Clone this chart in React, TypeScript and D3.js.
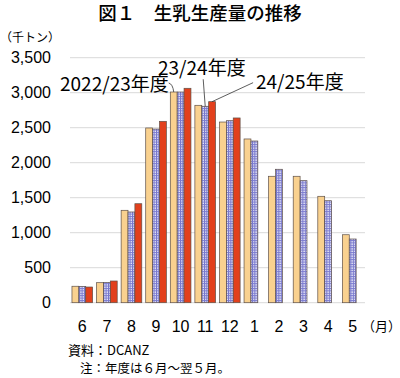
import React from "react";
import * as d3 from "d3";

const months = ["6", "7", "8", "9", "10", "11", "12", "1", "2", "3", "4", "5"];
const fy2223 = [235, 286, 1320, 2496, 3010, 2820, 2581, 2339, 1806, 1806, 1520, 971];
const fy2324 = [233, 290, 1296, 2481, 3010, 2806, 2600, 2310, 1906, 1743, 1457, 910];
const fy2425 = [224, 310, 1414, 2591, 3063, 2872, 2639];
const seriesNames = ["2022/23年度", "23/24年度", "24/25年度"];
const yTicks = [0, 500, 1000, 1500, 2000, 2500, 3000, 3500];

const W = 400;
const H = 378;
const left = 70;
const right = 365;
const top = 57.7;
const bottom = 302.7;

export default function App() {
  const x = d3.scaleBand<string>().domain(months).range([left, right]).paddingInner(0.16).paddingOuter(0.08);
  const series = [fy2223, fy2324, fy2425];
  const xs = d3.scaleBand<number>().domain([0, 1, 2]).range([0, x.bandwidth()]).padding(0);
  const y = d3.scaleLinear().domain([0, 3500]).range([bottom, top]);
  const fills = ["#f9d18f", "url(#chk)", "#e2401c"];
  const jp = "'Noto Sans CJK JP', sans-serif";
  const ar = "'Liberation Sans', Arial, sans-serif";

  const barTop = (s: number, i: number) => ({
    x: (x(months[i]) as number) + (xs(s) as number) + xs.bandwidth() / 2,
    y: y(series[s][i]),
  });
  const p0 = barTop(0, 4);
  const p1 = barTop(1, 5);
  const p2 = barTop(2, 5);

  return (
    <svg width={W} height={H} style={{ position: "absolute", left: 0, top: 0 }}>
      <defs>
        <pattern id="chk" width="2.4" height="2.4" patternUnits="userSpaceOnUse">
          <rect width="2.4" height="2.4" fill="#ececfa" />
          <rect width="1" height="2.4" fill="#6a6ac4" />
          <rect width="2.4" height="1" fill="#7a7ad0" />
        </pattern>
      </defs>
      <rect width={W} height={H} fill="#fff" />
      <text x={200} y={20} textAnchor="middle" fontFamily={jp} fontWeight={500} fontSize={18.5} fill="#000">
        図１　生乳生産量の推移
      </text>
      <text x={0} y={42} fontFamily={jp} fontSize={12} fill="#000">（千トン）</text>
      {yTicks.map((t) => (
        <g key={t}>
          {t > 0 && <line x1={left} x2={right} y1={y(t)} y2={y(t)} stroke="#d9d9d9" strokeWidth={1} />}
          <text x={51} y={y(t) + 5.5} textAnchor="end" fontFamily={ar} fontSize={16} fill="#000">
            {d3.format(",")(t)}
          </text>
        </g>
      ))}
      <line x1={left} x2={right} y1={bottom} y2={bottom} stroke="#d9d9d9" strokeWidth={1} />
      {series.map((vals, s) =>
        vals.map((v, i) => (
          <rect
            key={s + "-" + i}
            x={(x(months[i]) as number) + (xs(s) as number)}
            y={y(v)}
            width={xs.bandwidth()}
            height={bottom - y(v)}
            fill={fills[s]}
            stroke="#5e5048"
            strokeWidth={0.7}
          />
        ))
      )}
      {months.map((m) => (
        <text key={m} x={(x(m) as number) + x.bandwidth() / 2} y={331.5} textAnchor="middle" fontFamily={ar} fontSize={16} fill="#000">
          {m}
        </text>
      ))}
      <text x={362} y={331} fontFamily={jp} fontSize={13} fill="#000">（月）</text>
      <text x={68} y={355} fontFamily={jp} fontSize={13} fill="#000">資料：DCANZ</text>
      <text x={80} y={373} fontFamily={jp} fontSize={12.5} fill="#000">注：年度は６月～翌５月。</text>

      <path d={`M${p0.x - 5},${p0.y - 9} Q${p0.x - 1},${p0.y - 8} ${p0.x},${p0.y}`} fill="none" stroke="#333" strokeWidth={0.8} />
      <path d={`M${p1.x - 2},${p1.y - 27} L${p1.x},${p1.y}`} fill="none" stroke="#333" strokeWidth={0.8} />
      <path d={`M${p2.x + 41},${p2.y - 19} L${p2.x},${p2.y}`} fill="none" stroke="#333" strokeWidth={0.8} />
      <text x={60} y={91} fontFamily={jp} fontSize={19} fill="#000">{seriesNames[0]}</text>
      <text x={158} y={75} fontFamily={jp} fontSize={19} fill="#000">{seriesNames[1]}</text>
      <text x={256} y={89} fontFamily={jp} fontSize={19} fill="#000">{seriesNames[2]}</text>
    </svg>
  );
}
